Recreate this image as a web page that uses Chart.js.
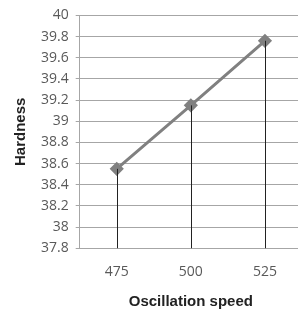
<!doctype html>
<html lang="en">
  <head>
    <meta charset="utf-8">
    <title>Hardness</title>
    <style>
      html, body { margin: 0; padding: 0; background: #fff; overflow: hidden; }
      #wrap { width: 302px; height: 311px; }
    </style>
  </head>
  <body>
    <div id="wrap"><canvas id="add_chart"></canvas></div>

    <script src="https://cdn.jsdelivr.net/npm/chart.js"></script>
    <script>
        const speeds = ['475', '500', '525'];
        const hardness = [38.55, 39.15, 39.76];
        const yMin = 37.8, yMax = 40, yStep = 0.2;

        // thin black lines from each point down to the x axis
        const dropLines = {
            id: 'dropLines',
            afterDatasetsDraw(chart) {
                const ctx = chart.ctx;
                const meta = chart.getDatasetMeta(0);
                const bottom = chart.chartArea.bottom;
                ctx.save();
                ctx.strokeStyle = '#222';
                ctx.lineWidth = 1;
                meta.data.forEach(function(pt) {
                    const x = Math.round(pt.x) + 0.5;
                    ctx.beginPath();
                    ctx.moveTo(x, pt.y);
                    ctx.lineTo(x, bottom);
                    ctx.stroke();
                });
                ctx.restore();
            }
        };

        new Chart(document.getElementById('add_chart'), {
            type: 'line',
            data: {
                labels: speeds,
                datasets: [{
                    data: hardness,
                    borderColor: '#808080',
                    backgroundColor: '#808080',
                    borderWidth: 3,
                    pointStyle: 'rectRot',
                    pointRadius: 5,
                    tension: 0
                }]
            },
            options: {
                responsive: true,
                maintainAspectRatio: false,
                animation: false,
                layout: { autoPadding: false, padding: { top: 9, right: 0, left: 12, bottom: 0 } },
                plugins: { legend: { display: false }, tooltip: { enabled: false } },
                scales: {
                    x: {
                        offset: true,
                        grid: { display: false, drawTicks: false },
                        border: { color: '#a6a6a6', width: 1 },
                        ticks: { color: '#595959', font: { family: 'Open Sans', size: 14 }, padding: 15 },
                        title: { display: true, text: 'Oscillation speed', color: '#222',
                                 font: { family: 'Liberation Sans', size: 15, weight: 'bold' }, padding: { top: -2, bottom: 0 } }
                    },
                    y: {
                        min: yMin,
                        max: yMax,
                        grid: { color: '#a6a6a6', tickLength: 4 },
                        border: { color: '#a6a6a6', width: 1 },
                        ticks: { stepSize: yStep, color: '#595959', font: { family: 'Open Sans', size: 14 }, padding: 7,
                                 callback: function(v) { return +v.toFixed(1); } },
                        title: { display: true, text: 'Hardness', color: '#222',
                                 font: { family: 'Liberation Sans', size: 15, weight: 'bold' }, padding: { top: 0, bottom: 4 } }
                    }
                }
            },
            plugins: [dropLines]
        });
    </script>
  </body>
</html>
